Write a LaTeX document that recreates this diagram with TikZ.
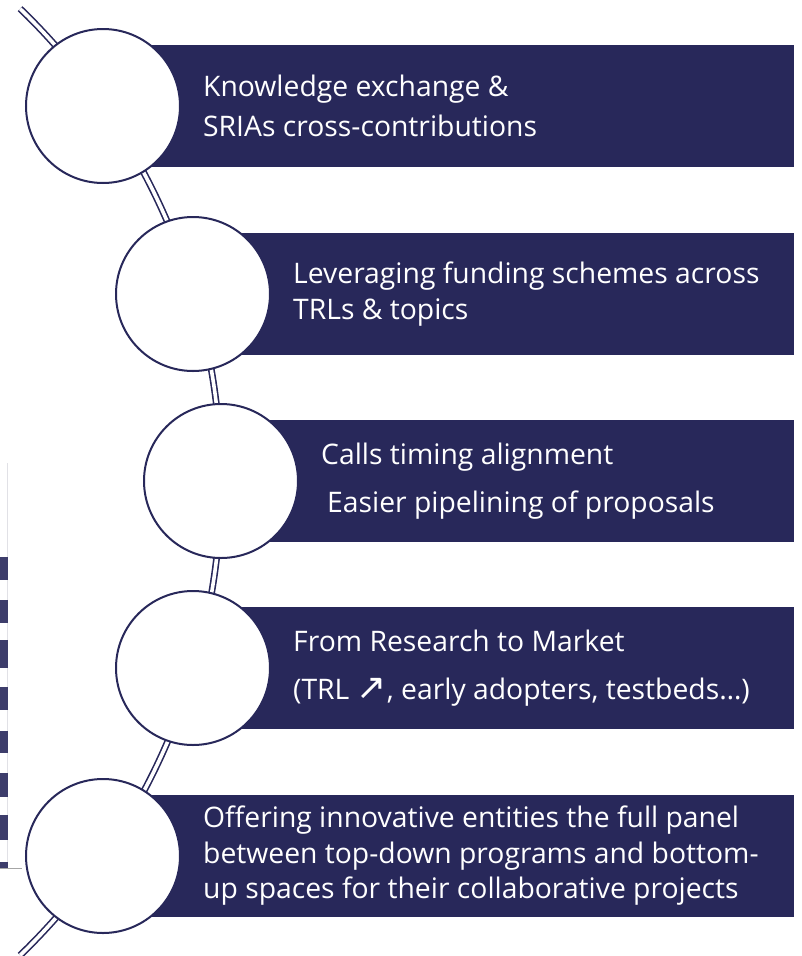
\documentclass[tikz,border=0pt]{standalone}
\usepackage{fontspec}
\setmainfont{Open Sans}
\newfontfamily\arrowfont{DejaVu Sans}
\usetikzlibrary{calc,positioning}
\definecolor{navy}{RGB}{40,40,90}
\definecolor{edgegrey}{RGB}{225,225,230}

\begin{document}
\begin{tikzpicture}[x=1pt,y=-1pt,
  stage/.style={circle,draw=navy,line width=2pt,fill=white,minimum size=154pt,inner sep=0pt},
  band/.style={fill=navy},
  caption/.style={text=white,align=left,font=\fontsize{28.3}{35.5}\selectfont,inner sep=0pt},
  rail/.style={draw=navy,line width=1.6pt,double=white,double distance=3.6pt}]
\useasboundingbox (0,0) rectangle (802,956);

% cropped edge of a neighbouring picture
\begin{scope}
\draw[edgegrey,line width=1pt] (7.5,463) -- (7.5,868);
\draw[gray!70,line width=0.8pt] (0,868) -- (22,868);
\fill[navy!90] (0,557) rectangle (8,580);
\fill[navy!90] (0,600) rectangle (8,623);
\fill[navy!90] (0,640) rectangle (8,668);
\fill[navy!90] (0,687) rectangle (8,710);
\fill[navy!90] (0,731) rectangle (8,753);
\fill[navy!90] (0,773) rectangle (8,797);
\fill[navy!90] (0,815) rectangle (8,840);
\fill[navy!90] (0,862) rectangle (8,868);
\end{scope}

% rail along the arc
\coordinate (hub) at (-437,482);
\draw[rail] (hub) ++(-46:658) arc (-46:46:658);

% stage positions
\coordinate (p1) at (103,106);
\coordinate (p2) at (193,294);
\coordinate (p3) at (221,481);
\coordinate (p4) at (193,668);
\coordinate (p5) at (103,856);
\coordinate (rim) at (794,0);

% bands
\foreach \n in {1,...,5}{
  \fill[band] ($(p\n)+(0,-61)$) rectangle ($(p\n -| rim)+(0,61)$);
}

% stages
\foreach \n in {1,...,5}{
  \node[stage] (c\n) at (p\n) {};
}

% captions
\node[caption,right=22pt of c1] (t1) {Knowledge exchange \&\\[4.5pt]SRIAs cross-contributions};
\node[caption,right=22pt of c2] (t2) {Leveraging funding schemes across\\TRLs \& topics};
\node[caption,right=22pt of c3] (t3) {Calls timing alignment\\[12pt]\hspace*{6pt}Easier pipelining of proposals};
\node[caption,right=22pt of c4] (t4) {From Research to Market\\[13pt](TRL {\arrowfont\fontsize{36}{26}\selectfont ↗}, early adopters, testbeds…)};
\node[caption,right=22pt of c5] (t5) {Offering innovative entities the full panel\\between top-down programs and bottom-\\up spaces for their collaborative projects};

\end{tikzpicture}
\end{document}
